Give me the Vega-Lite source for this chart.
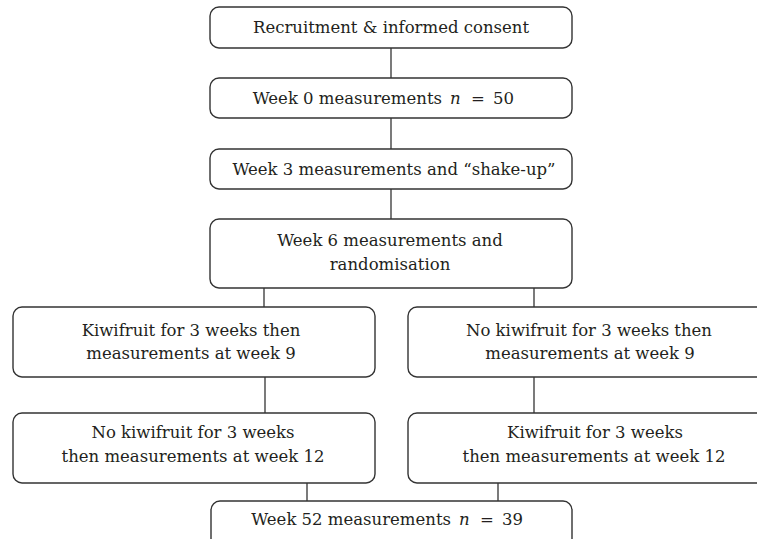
{
  "$schema": "https://vega.github.io/schema/vega-lite/v6.json",
  "width": 757,
  "height": 539,
  "padding": 0,
  "autosize": {"type": "fit", "contains": "padding"},
  "background": "white",
  "config": {"view": {"stroke": null}},
  "datasets": {
    "boxes": [
      {"id": "b1", "x1": 210, "x2": 572, "y1": 7, "y2": 48},
      {"id": "b2", "x1": 210, "x2": 572, "y1": 78, "y2": 118},
      {"id": "b3", "x1": 210, "x2": 572, "y1": 149, "y2": 189},
      {"id": "b4", "x1": 210, "x2": 572, "y1": 219, "y2": 288},
      {"id": "b5L", "x1": 13, "x2": 375, "y1": 307, "y2": 377},
      {"id": "b5R", "x1": 408, "x2": 770, "y1": 307, "y2": 377},
      {"id": "b6L", "x1": 13, "x2": 375, "y1": 413, "y2": 483},
      {"id": "b6R", "x1": 408, "x2": 770, "y1": 413, "y2": 483},
      {"id": "b7", "x1": 211, "x2": 572, "y1": 501, "y2": 552}
    ],
    "links": [
      {"x": 391, "y1": 48, "y2": 78},
      {"x": 391, "y1": 118, "y2": 149},
      {"x": 391, "y1": 189, "y2": 219},
      {"x": 264, "y1": 288, "y2": 307},
      {"x": 534, "y1": 288, "y2": 307},
      {"x": 265, "y1": 377, "y2": 413},
      {"x": 534, "y1": 377, "y2": 413},
      {"x": 307, "y1": 483, "y2": 501},
      {"x": 498, "y1": 483, "y2": 501}
    ],
    "labels": [
      {"kind": "center", "text": "Recruitment & informed consent", "x": 391, "y": 28},
      {"kind": "center", "text": "Week 3 measurements and “shake-up”", "x": 394, "y": 170},
      {"kind": "center", "text": "Week 6 measurements and", "x": 390, "y": 241},
      {"kind": "center", "text": "randomisation", "x": 390, "y": 265},
      {"kind": "center", "text": "Kiwifruit for 3 weeks then", "x": 191, "y": 331},
      {"kind": "center", "text": "measurements at week 9", "x": 191, "y": 354},
      {"kind": "center", "text": "No kiwifruit for 3 weeks then", "x": 589, "y": 331},
      {"kind": "center", "text": "measurements at week 9", "x": 590, "y": 354},
      {"kind": "center", "text": "No kiwifruit for 3 weeks", "x": 193, "y": 433},
      {"kind": "center", "text": "then measurements at week 12", "x": 193, "y": 457},
      {"kind": "center", "text": "Kiwifruit for 3 weeks", "x": 595, "y": 433},
      {"kind": "center", "text": "then measurements at week 12", "x": 594, "y": 457},
      {"kind": "lead", "text": "Week 0 measurements", "x": 442, "y": 99},
      {"kind": "var", "text": "n", "x": 450, "y": 99},
      {"kind": "eq", "text": "=", "x": 478, "y": 99},
      {"kind": "tail", "text": "50", "x": 493, "y": 99},
      {"kind": "lead", "text": "Week 52 measurements", "x": 451, "y": 520},
      {"kind": "var", "text": "n", "x": 459, "y": 520},
      {"kind": "eq", "text": "=", "x": 487, "y": 520},
      {"kind": "tail", "text": "39", "x": 502, "y": 520}
    ]
  },
  "encoding": {},
  "layer": [
    {
      "data": {"name": "boxes"},
      "mark": {"type": "rect", "fill": "white", "stroke": "#333333", "strokeWidth": 1.4, "cornerRadius": 9, "clip": true},
      "encoding": {
        "x": {"field": "x1", "type": "quantitative", "scale": {"domain": [0, 757], "nice": false, "zero": false}, "axis": null},
        "x2": {"field": "x2"},
        "y": {"field": "y1", "type": "quantitative", "scale": {"domain": [0, 539], "nice": false, "zero": false, "reverse": true}, "axis": null},
        "y2": {"field": "y2"}
      }
    },
    {
      "data": {"name": "links"},
      "mark": {"type": "rule", "stroke": "#333333", "strokeWidth": 1.3},
      "encoding": {
        "x": {"field": "x", "type": "quantitative", "scale": {"domain": [0, 757], "nice": false, "zero": false}, "axis": null},
        "y": {"field": "y1", "type": "quantitative", "scale": {"domain": [0, 539], "nice": false, "zero": false, "reverse": true}, "axis": null},
        "y2": {"field": "y2"}
      }
    },
    {
      "data": {"name": "labels"},
      "transform": [{"filter": "datum.kind === 'center'"}],
      "mark": {"type": "text", "font": "DejaVu Serif", "fontSize": 16.5, "color": "#231f20", "align": "center", "baseline": "middle"},
      "encoding": {
        "x": {"field": "x", "type": "quantitative", "scale": {"domain": [0, 757], "nice": false, "zero": false}, "axis": null},
        "y": {"field": "y", "type": "quantitative", "scale": {"domain": [0, 539], "nice": false, "zero": false, "reverse": true}, "axis": null},
        "text": {"field": "text"}
      }
    },
    {
      "data": {"name": "labels"},
      "transform": [{"filter": "datum.kind === 'lead'"}],
      "mark": {"type": "text", "font": "DejaVu Serif", "fontSize": 16.5, "color": "#231f20", "align": "right", "baseline": "middle"},
      "encoding": {
        "x": {"field": "x", "type": "quantitative", "scale": {"domain": [0, 757], "nice": false, "zero": false}, "axis": null},
        "y": {"field": "y", "type": "quantitative", "scale": {"domain": [0, 539], "nice": false, "zero": false, "reverse": true}, "axis": null},
        "text": {"field": "text"}
      }
    },
    {
      "data": {"name": "labels"},
      "transform": [{"filter": "datum.kind === 'var'"}],
      "mark": {"type": "text", "font": "DejaVu Serif", "fontSize": 16.5, "fontStyle": "italic", "color": "#231f20", "align": "left", "baseline": "middle"},
      "encoding": {
        "x": {"field": "x", "type": "quantitative", "scale": {"domain": [0, 757], "nice": false, "zero": false}, "axis": null},
        "y": {"field": "y", "type": "quantitative", "scale": {"domain": [0, 539], "nice": false, "zero": false, "reverse": true}, "axis": null},
        "text": {"field": "text"}
      }
    },
    {
      "data": {"name": "labels"},
      "transform": [{"filter": "datum.kind === 'eq'"}],
      "mark": {"type": "text", "font": "DejaVu Serif", "fontSize": 16.5, "color": "#231f20", "align": "center", "baseline": "middle"},
      "encoding": {
        "x": {"field": "x", "type": "quantitative", "scale": {"domain": [0, 757], "nice": false, "zero": false}, "axis": null},
        "y": {"field": "y", "type": "quantitative", "scale": {"domain": [0, 539], "nice": false, "zero": false, "reverse": true}, "axis": null},
        "text": {"field": "text"}
      }
    },
    {
      "data": {"name": "labels"},
      "transform": [{"filter": "datum.kind === 'tail'"}],
      "mark": {"type": "text", "font": "DejaVu Serif", "fontSize": 16.5, "color": "#231f20", "align": "left", "baseline": "middle"},
      "encoding": {
        "x": {"field": "x", "type": "quantitative", "scale": {"domain": [0, 757], "nice": false, "zero": false}, "axis": null},
        "y": {"field": "y", "type": "quantitative", "scale": {"domain": [0, 539], "nice": false, "zero": false, "reverse": true}, "axis": null},
        "text": {"field": "text"}
      }
    }
  ]
}
